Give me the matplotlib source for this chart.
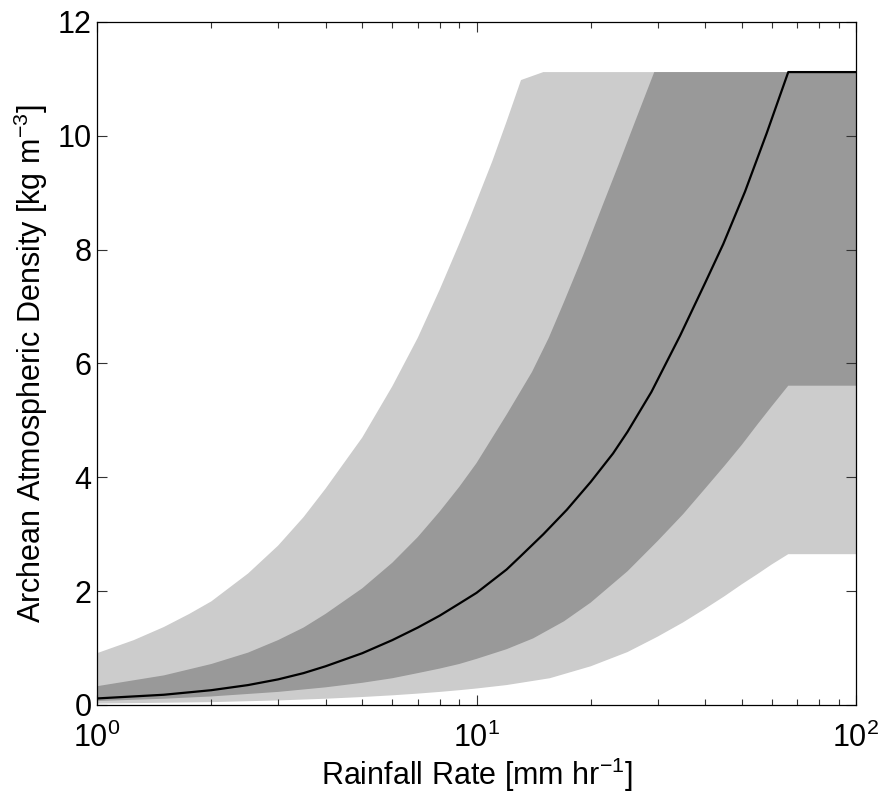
import numpy as np
import matplotlib
matplotlib.use("Agg")
import matplotlib.pyplot as plt
from matplotlib.ticker import LogLocator, FixedLocator

# Archean density vs rainfall rate: median curve with two envelopes
plt.rcParams['font.family'] = ['Liberation Sans', 'DejaVu Sans']
plt.rcParams['mathtext.fontset'] = 'custom'
plt.rcParams['mathtext.rm'] = 'Liberation Sans'
plt.rcParams['mathtext.it'] = 'Liberation Sans:italic'
plt.rcParams['mathtext.bf'] = 'Liberation Sans:bold'

# outer envelope (light grey)
light_hi_x = [1, 1.25, 1.5, 1.75, 2, 2.5, 3, 3.5, 4, 5, 6, 7, 8, 9, 9.6, 10, 11, 12, 13.1, 15, 100]
light_hi_y = [0.91, 1.14, 1.37, 1.60, 1.82, 2.31, 2.80, 3.30, 3.80, 4.70, 5.60, 6.45, 7.30,
              8.10, 8.55, 8.85, 9.55, 10.25, 10.98, 11.12, 11.12]
light_lo_x = [1, 2, 3, 4, 5, 6, 7, 8, 9, 10, 12, 15.6, 20, 25, 30, 35, 40, 45, 50, 55, 60, 66.3, 100]
light_lo_y = [0.025, 0.05, 0.08, 0.11, 0.14, 0.17, 0.20, 0.23, 0.26, 0.29, 0.35, 0.47, 0.68,
              0.93, 1.20, 1.45, 1.69, 1.91, 2.12, 2.30, 2.47, 2.65, 2.65]

# inner envelope (dark grey)
dark_hi_x = [1, 1.5, 2, 2.5, 3, 3.5, 4, 5, 6, 7, 8, 9, 10, 12, 14, 15.5, 17, 19.1, 21.5, 23.7, 26, 29.4, 100]
dark_hi_y = [0.33, 0.52, 0.72, 0.92, 1.14, 1.36, 1.60, 2.05, 2.50, 2.95, 3.40, 3.83, 4.25,
             5.10, 5.85, 6.45, 7.08, 7.90, 8.78, 9.50, 10.20, 11.12, 11.12]
dark_lo_x = [1, 1.5, 2, 3, 4, 5, 6, 7, 8, 9, 10, 12, 14.1, 17, 20, 25, 30, 35, 40, 45, 50, 55, 60, 66.3, 100]
dark_lo_y = [0.07, 0.11, 0.15, 0.23, 0.31, 0.39, 0.47, 0.56, 0.64, 0.72, 0.81, 0.98, 1.17,
             1.47, 1.80, 2.35, 2.88, 3.35, 3.80, 4.20, 4.57, 4.93, 5.25, 5.61, 5.61]

# median curve
med_x = [1, 1.5, 2, 2.5, 3, 3.5, 4, 5, 6, 7, 8, 9, 10, 12, 13, 15, 17.3, 20, 22.9, 25,
         28.9, 34.4, 40, 44.7, 51, 58.2, 66.3, 100]
med_y = [0.115, 0.18, 0.26, 0.35, 0.45, 0.56, 0.68, 0.91, 1.14, 1.36, 1.57, 1.78, 1.97,
         2.38, 2.60, 3.00, 3.43, 3.92, 4.42, 4.80, 5.50, 6.49, 7.41, 8.10, 9.02, 10.05, 11.12, 11.12]

fig = plt.figure(figsize=(8.83, 7.94), dpi=100)
ax = fig.add_axes([0.1099, 0.1121, 0.8595, 0.8602])

ax.fill(light_hi_x + light_lo_x[::-1], light_hi_y + light_lo_y[::-1],
        color='#cccccc', lw=0)
ax.fill(dark_hi_x + dark_lo_x[::-1], dark_hi_y + dark_lo_y[::-1],
        color='#999999', lw=0)
ax.plot(med_x, med_y, color='black', lw=1.6)

ax.set_xscale('log')
ax.set_xlim(1, 100)
ax.set_ylim(0, 12)
ax.yaxis.set_major_locator(FixedLocator([0, 2, 4, 6, 8, 10, 12]))
ax.xaxis.set_major_locator(LogLocator(base=10))
ax.xaxis.set_minor_locator(LogLocator(base=10, subs=np.arange(2, 10)))

ax.tick_params(which='both', direction='in', top=True, right=True,
               labelsize=22, width=0.8, color='#333333')
ax.tick_params(which='major', length=7)
ax.tick_params(which='minor', length=4)
ax.tick_params(axis='y', pad=4)
ax.tick_params(axis='x', pad=13)
for s in ax.spines.values():
    s.set_linewidth(0.9)

ax.set_xlabel('Rainfall Rate [mm hr$^{-1}$]', fontsize=22, labelpad=1)
ax.set_ylabel('Archean Atmospheric Density [kg m$^{-3}$]', fontsize=22, labelpad=5)

fig.savefig('out.png', dpi=100)
